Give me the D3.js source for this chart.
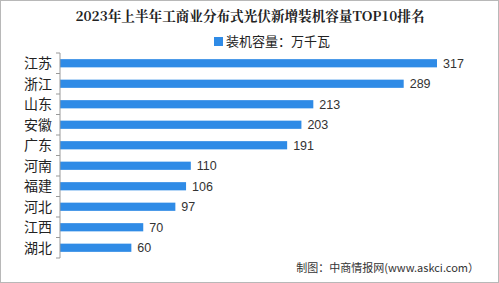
<!DOCTYPE html>
<html>
<head>
<meta charset="utf-8">
<script src="https://d3js.org/d3.v7.min.js"></script>
<style>
  body { margin: 0; background: #fff; }
  svg { display: block; }
</style>
</head>
<body>
<svg id="chart" width="499" height="283"></svg>
<script>
  // data (万千瓦)
  const provinces = ['江苏', '浙江', '山东', '安徽', '广东', '河南', '福建', '河北', '江西', '湖北'];
  const capacity = [317, 289, 213, 203, 191, 110, 106, 97, 70, 60];
  const titleText = '2023年上半年工商业分布式光伏新增装机容量TOP10排名';
  const legendText = '装机容量：万千瓦';
  const sourceText = '制图：中商情报网(www.askci.com）';

  const svg = d3.select('#chart');
  const W = 499, H = 283;
  const margin = { top: 53, right: 62, bottom: 25, left: 60 };
  const barColor = '#2f8be6';
  const font = '"Noto Sans CJK SC", "Noto Sans", sans-serif';

  // frame
  svg.append('rect')
    .attr('x', 0.5).attr('y', 0.5)
    .attr('width', W - 1).attr('height', H - 1)
    .attr('fill', '#fff').attr('stroke', '#b8b8b8');

  svg.append('text')
    .attr('x', 250).attr('y', 21)
    .attr('text-anchor', 'middle')
    .attr('font-family', '"Noto Serif CJK SC", "Noto Sans CJK SC", serif')
    .attr('font-weight', 'bold')
    .attr('font-size', 13.6)
    .attr('fill', '#222')
    .text(titleText);

  const legend = svg.append('g').attr('transform', 'translate(214 36)');
  legend.append('rect').attr('width', 9).attr('height', 9).attr('y', 1).attr('fill', barColor);
  legend.append('text')
    .attr('x', 12).attr('y', 9.5)
    .attr('font-family', font).attr('font-size', 13).attr('fill', '#222')
    .text(legendText);

  const x = d3.scaleLinear()
    .domain([0, 317])
    .range([margin.left, 437]);

  const y = d3.scaleBand()
    .domain(provinces)
    .range([margin.top, H - margin.bottom])
    .paddingInner(0.6)
    .paddingOuter(0.3);

  const bars = svg.append('g');
  bars.selectAll('rect')
    .data(provinces)
    .join('rect')
    .attr('x', x(0))
    .attr('y', d => y(d))
    .attr('width', (d, i) => x(capacity[i]) - x(0))
    .attr('height', y.bandwidth())
    .attr('fill', barColor);

  bars.selectAll('text')
    .data(provinces)
    .join('text')
    .attr('x', (d, i) => x(capacity[i]) + 6)
    .attr('y', d => y(d) + y.bandwidth() / 2)
    .attr('dy', '0.35em')
    .attr('font-family', '"Liberation Sans", Arial, sans-serif')
    .attr('font-size', 12.5)
    .attr('fill', '#333')
    .text((d, i) => capacity[i]);

  // category axis with ticks between bands
  const axis = svg.append('g').attr('transform', `translate(${margin.left} 0)`);
  axis.append('line')
    .attr('y1', margin.top).attr('y2', H - margin.bottom)
    .attr('stroke', '#999');
  const step = y.step();
  const bounds = d3.range(provinces.length + 1).map(i => margin.top + i * step);
  axis.selectAll('.tick')
    .data(bounds)
    .join('line')
    .attr('x1', -4).attr('x2', 0)
    .attr('y1', d => d).attr('y2', d => d)
    .attr('stroke', '#999');
  axis.selectAll('text')
    .data(provinces)
    .join('text')
    .attr('x', -8)
    .attr('y', d => y(d) + y.bandwidth() / 2)
    .attr('dy', '0.36em')
    .attr('text-anchor', 'end')
    .attr('font-family', font)
    .attr('font-size', 14)
    .attr('fill', '#222')
    .text(d => d);

  svg.append('text')
    .attr('x', 479).attr('y', 272)
    .attr('text-anchor', 'end')
    .attr('font-family', font)
    .attr('font-size', 11)
    .attr('fill', '#333')
    .text(sourceText);
</script>
</body>
</html>
